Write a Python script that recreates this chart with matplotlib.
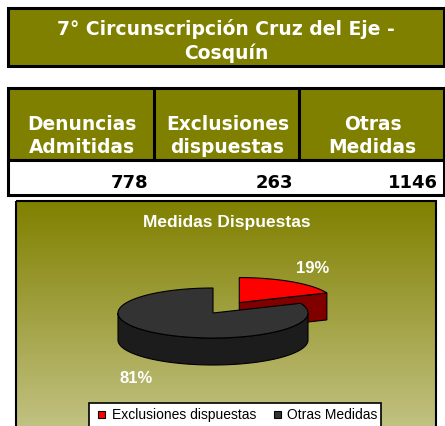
import numpy as np
import matplotlib
matplotlib.use('Agg')
import matplotlib.pyplot as plt
from matplotlib.patches import Rectangle, Polygon

# datos
titulo = '7° Circunscripción Cruz del Eje -\nCosquín'
columnas = ['Denuncias\nAdmitidas', 'Exclusiones\ndispuestas', 'Otras\nMedidas']
valores = [778, 263, 1146]
torta_titulo = 'Medidas Dispuestas'
torta_labels = ['Exclusiones dispuestas', 'Otras Medidas']
torta_valores = [263, 1146]

OLIVA = '#808000'
top_colors = ['#ff0000', '#333333']
side_colors = ['#800000', '#1c1c1c']

fig = plt.figure(figsize=(4.45, 4.27), dpi=100)
ax = fig.add_axes([0, 0, 1, 1])
W, H = 445, 427

# cuadro de titulo
ax.add_patch(Rectangle((8, 9), 436, 58, facecolor=OLIVA, edgecolor='black', lw=2.2))
ax.text(226, 41, titulo, ha='center', va='center', color='white', fontsize=13.5,
        fontweight='bold', family='DejaVu Sans', linespacing=1.3)

# tabla
xs = [8, 154, 299, 444]
ax.add_patch(Rectangle((8, 89), 436, 72, facecolor=OLIVA, edgecolor='black', lw=2.2))
ax.add_patch(Rectangle((8, 161), 436, 35, facecolor='white', edgecolor='black', lw=2.2))
for i, (col, v) in enumerate(zip(columns := columnas, valores)):
    if i > 0:
        ax.plot([xs[i], xs[i]], [89, 161], color='black', lw=2.2)
    ax.text((xs[i] + xs[i + 1]) / 2 + 1, 136, col, ha='center', va='center', color='white',
            fontsize=13.4, fontweight='bold', family='DejaVu Sans', linespacing=1.25)
    ax.text(xs[i + 1] - 6, 183, str(v), ha='right', va='center', color='black',
            fontsize=13, fontweight='bold', family='DejaVu Sans')

# fondo del grafico con degrade
grad = np.linspace(0, 1, 256)[:, None, None]
c0 = np.array([128, 128, 0]) / 255
c1 = np.array([194, 194, 132]) / 255
img = c0 + (c1 - c0) * grad
ax.imshow(img, extent=(16, 436, 430, 202), origin='upper', aspect='auto', zorder=0)
ax.add_patch(Rectangle((16, 202), 420, 230, facecolor='none', edgecolor='black', lw=1.5, zorder=1))
ax.text(227, 223, torta_titulo, ha='center', va='center', color='white', fontsize=12.5,
        fontweight='bold', family='Liberation Sans')

# torta 3D
CX, CY, RX, RY, D = 213, 314, 95, 25, 27
explode = [0.5, 0]
frac = np.array(torta_valores) / sum(torta_valores)


def arc(cx, cy, t0, t1, n=120):
    th = np.radians(np.linspace(t0, t1, n))
    return np.column_stack([cx + RX * np.cos(th), cy - RY * np.sin(th)])


start = 90
angles = []
for f in frac:
    angles.append((start, start - 360 * f))
    start -= 360 * f

polys = []
for i, (a0, a1) in enumerate(angles):
    mid = np.radians((a0 + a1) / 2)
    cx = CX + explode[i] * RX * np.cos(mid)
    cy = CY - explode[i] * RY * np.sin(mid)
    layers = []
    # cara radial al final del corte
    p = arc(cx, cy, a1, a1, 1)[0]
    if np.sin(np.radians(a1 - 90)) < 0 and explode[i] > 0:
        layers.append(Polygon([[cx, cy], p, p + [0, D], [cx, cy + D]], closed=True,
                              facecolor=side_colors[i], edgecolor='black', lw=0.8))
    # pared frontal
    lo, hi = max(a1, -180), min(a0, 0)
    if a1 < -180 or a0 > 180:
        lo, hi = -180, 0
    if hi > lo:
        top = arc(cx, cy, hi, lo)
        bot = top[::-1] + [0, D]
        layers.append(Polygon(np.vstack([top, bot]), closed=True,
                              facecolor=side_colors[i], edgecolor='black', lw=0.8))
    # tapa
    layers.append(Polygon(np.vstack([[cx, cy], arc(cx, cy, a0, a1)]), closed=True,
                          facecolor=top_colors[i], edgecolor='black', lw=0.8))
    polys.append(layers)

for layers in polys:
    for pg in layers:
        ax.add_patch(pg)

pct = [f'{round(f * 100)}%' for f in frac]
ax.text(313, 269, pct[0], ha='center', va='center', color='white', fontsize=12,
        fontweight='bold', family='Liberation Sans')
ax.text(136, 379, pct[1], ha='center', va='center', color='white', fontsize=12,
        fontweight='bold', family='Liberation Sans')

# leyenda
ax.add_patch(Rectangle((89, 404), 292, 40, facecolor='white', edgecolor='black', lw=1.2))
for lab, col, mx, tx in zip(torta_labels, top_colors, [98, 274], [112, 287]):
    ax.add_patch(Rectangle((mx, 412), 7, 7, facecolor=col, edgecolor='black', lw=0.8))
    ax.text(tx, 415, lab, ha='left', va='center', fontsize=10, family='Liberation Sans')

ax.set_xlim(0, W)
ax.set_ylim(H, 0)
ax.axis('off')
fig.savefig('out.png', dpi=100)
